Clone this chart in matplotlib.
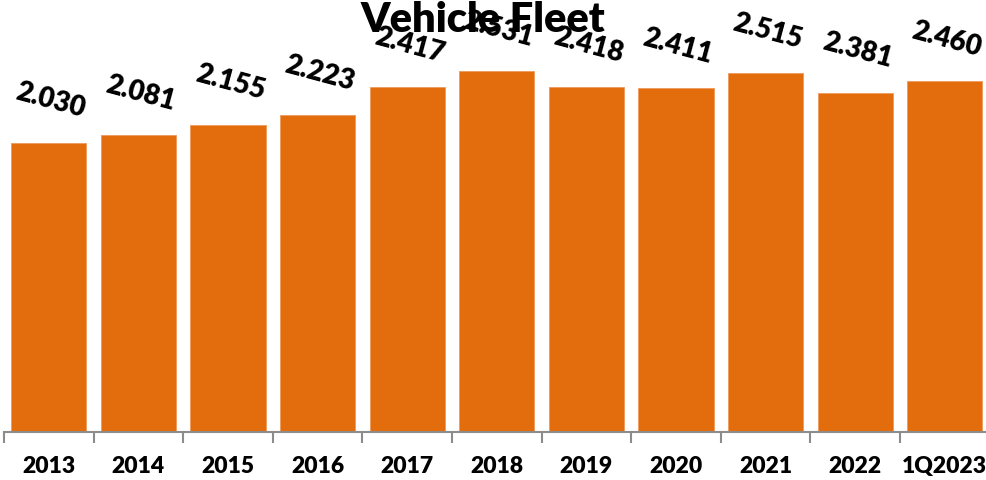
import matplotlib
matplotlib.use("Agg")
import matplotlib.pyplot as plt
import numpy as np

categories = ["2013", "2014", "2015", "2016", "2017", "2018", "2019", "2020", "2021", "2022", "1Q2023"]
values = [2.030, 2.081, 2.155, 2.223, 2.417, 2.531, 2.418, 2.411, 2.515, 2.381, 2.460]
value_labels = ["2.030", "2.081", "2.155", "2.223", "2.417", "2.531", "2.418", "2.411", "2.515", "2.381", "2.460"]
title = "Vehicle Fleet"

plt.rcParams['font.family'] = ['Lato', 'DejaVu Sans']

W, H = 986, 480
fig = plt.figure(figsize=(W / 100, H / 100), dpi=100)
ax = fig.add_axes([4 / W, 48 / H, 985.6 / W, 432 / H])

x = np.arange(len(categories))
ax.bar(x, values, width=0.84, color="#E36C0C", edgecolor="#EE9A5A", linewidth=0.6, zorder=2)

ax.set_xlim(-0.5, len(categories) - 0.5)
ax.set_ylim(0, 3.03)

for s in ["top", "right", "left"]:
    ax.spines[s].set_visible(False)
ax.spines["bottom"].set_color("#8C8C8C")
ax.spines["bottom"].set_linewidth(1.5)
ax.set_yticks([])

ax.set_xticks(np.arange(len(categories) + 1) - 0.5, minor=False)
ax.set_xticklabels([])
ax.tick_params(axis="x", which="major", length=8, width=1.5, color="#8C8C8C", direction="out")
ax.set_xticks(x, minor=True)
ax.set_xticklabels(categories, minor=True, fontsize=16.5, fontweight="heavy")
ax.tick_params(axis="x", which="minor", length=0, pad=17)

for xi, v, lab in zip(x, values, value_labels):
    ax.annotate(lab, (xi, v), xytext=(2, 42), textcoords="offset pixels",
                ha="center", va="center", rotation=-15, fontsize=20,
                fontweight="heavy", color="black", zorder=3)

fig.text(483 / W, 1 - 20 / H, title, ha="center", va="center", fontsize=30,
         fontweight="heavy", color="black", zorder=5)

fig.savefig("out.png", dpi=100)
